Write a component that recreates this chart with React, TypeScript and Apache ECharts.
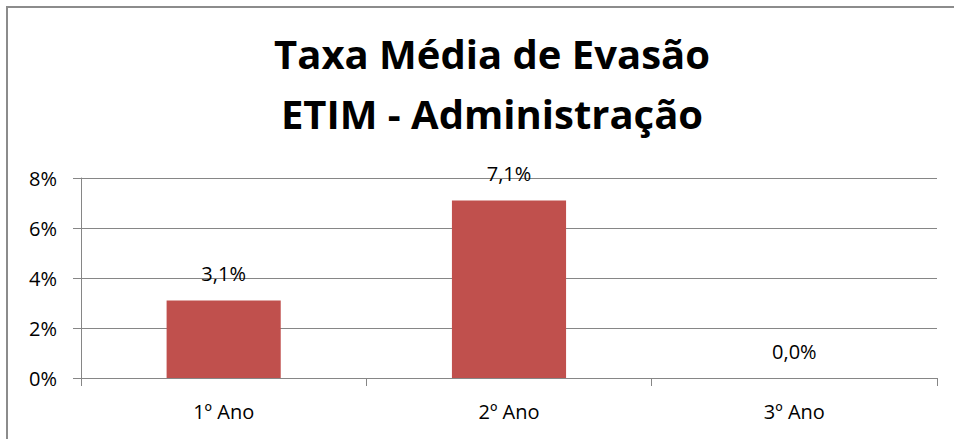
import React, { useEffect, useRef } from "react";
import * as echarts from "echarts";

const titleLines = ["Taxa Média de Evasão", "ETIM - Administração"];
const categories = ["1º Ano", "2º Ano", "3º Ano"];
const values = [3.1, 7.1, 0.0];
const yMin = 0;
const yMax = 8;
const yInterval = 2;

const FONT = "Open Sans";

export default function App() {
  const ref = useRef<HTMLDivElement>(null);
  useEffect(() => {
    if (!ref.current) return;
    const chart = echarts.init(ref.current, undefined, { renderer: "svg" });
    chart.setOption({
      animation: false,
      backgroundColor: "#ffffff",
      title: {
        text: titleLines.join("\n"),
        left: 487,
        textAlign: "center",
        top: 18,
        padding: 5,
        textStyle: {
          fontFamily: FONT,
          fontWeight: "bold",
          fontSize: 40,
          lineHeight: 60,
          color: "#000000",
        },
      },
      graphic: [
        {
          type: "rect",
          shape: { x: 7, y: 7, width: 1200, height: 1200 },
          style: { fill: "none", stroke: "#8c8c8c", lineWidth: 2 },
          silent: true,
        },
      ],
      grid: { left: 81, right: 17, top: 178, bottom: 61, containLabel: false },
      xAxis: {
        type: "category",
        data: categories,
        axisLine: { show: true, lineStyle: { color: "#868686", width: 1 } },
        axisTick: { show: true, length: 8, lineStyle: { color: "#868686" } },
        axisLabel: { fontFamily: FONT, fontSize: 20, color: "#000", margin: 23 },
      },
      yAxis: {
        type: "value",
        min: yMin,
        max: yMax,
        interval: yInterval,
        axisLine: { show: true, lineStyle: { color: "#868686", width: 1 } },
        axisTick: { show: true, length: 8, lineStyle: { color: "#868686" } },
        splitLine: { show: true, lineStyle: { color: "#868686", width: 1 } },
        axisLabel: {
          fontFamily: FONT,
          fontSize: 20,
          color: "#000",
          margin: 24,
          formatter: (v: number) => `${v}%`,
        },
      },
      series: [
        {
          type: "bar",
          data: values,
          barCategoryGap: "60%",
          itemStyle: { color: "#C0504D" },
          label: {
            show: true,
            position: "top",
            distance: 17,
            fontFamily: FONT,
            fontSize: 20,
            color: "#000",
            formatter: (p: any) => `${Number(p.value).toFixed(1).replace(".", ",")}%`,
          },
        },
      ],
    });
    return () => chart.dispose();
  }, []);
  return (
    <div
      ref={ref}
      style={{ position: "fixed", left: 0, top: 0, width: 954, height: 439 }}
    />
  );
}
